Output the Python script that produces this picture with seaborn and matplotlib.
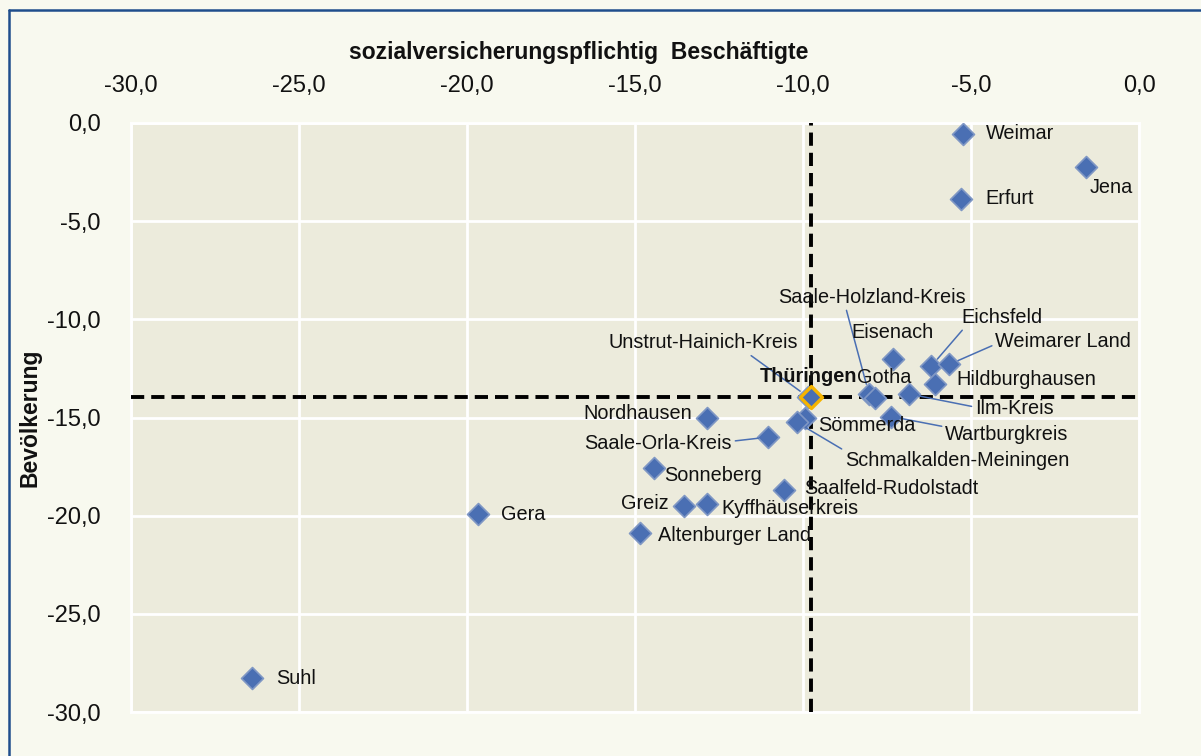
import matplotlib
matplotlib.use("Agg")
import matplotlib.pyplot as plt
from matplotlib.lines import Line2D
from matplotlib.ticker import FuncFormatter, MultipleLocator
import pandas as pd
import seaborn as sns

# change in percent, districts of Thuringia
kreise = ["Weimar", "Jena", "Erfurt", "Saale-Holzland-Kreis", "Eisenach", "Eichsfeld",
          "Weimarer Land", "Hildburghausen", "Gotha", "Unstrut-Hainich-Kreis", "Ilm-Kreis",
          "Wartburgkreis", "Sömmerda", "Schmalkalden-Meiningen", "Nordhausen",
          "Saale-Orla-Kreis", "Sonneberg", "Saalfeld-Rudolstadt", "Greiz", "Kyffhäuserkreis",
          "Altenburger Land", "Gera", "Suhl"]
beschaeftigte = [-5.24, -1.58, -5.30, -8.04, -7.32, -6.19,
                 -5.65, -6.07, -7.86, -9.85, -6.85,
                 -7.38, -9.94, -10.18, -12.86,
                 -11.04, -14.43, -10.57, -13.54, -12.86,
                 -14.85, -19.67, -26.40]
bevoelkerung = [-0.56, -2.24, -3.88, -13.78, -12.04, -12.40,
                -12.30, -13.30, -14.03, -13.95, -13.80,
                -14.95, -15.00, -15.25, -15.05,
                -16.00, -17.55, -18.70, -19.50, -19.40,
                -20.90, -19.90, -28.27]
land = "Thüringen"
land_x = -9.75
land_y = -13.95

# label placement (pixels from marker, ha) and leader lines (relpos on text)
label_pos = {
    "Weimar": (23, 0, "left"), "Jena": (4, -21, "left"), "Erfurt": (24, 1, "left"),
    "Saale-Holzland-Kreis": (3, 96, "center"), "Eisenach": (-1, 27, "center"),
    "Eichsfeld": (30, 49, "left"), "Weimarer Land": (46, 23, "left"),
    "Hildburghausen": (21, 5, "left"), "Gotha": (9, 21, "center"),
    "Unstrut-Hainich-Kreis": (-105, 54, "center"), "Ilm-Kreis": (66, -15, "left"),
    "Wartburgkreis": (54, -18, "left"), "Sömmerda": (13, -8, "left"),
    "Schmalkalden-Meiningen": (48, -38, "left"), "Nordhausen": (-15, 5, "right"),
    "Saale-Orla-Kreis": (-36, -6, "right"), "Sonneberg": (10, -8, "left"),
    "Saalfeld-Rudolstadt": (20, 2, "left"), "Greiz": (-15, 2, "right"),
    "Kyffhäuserkreis": (14, -5, "left"), "Altenburger Land": (18, -2, "left"),
    "Gera": (23, -1, "left"), "Suhl": (24, 0, "left"),
}
leaders = {
    "Saale-Holzland-Kreis": (0.36, 0.0), "Eichsfeld": (0.05, 0.0),
    "Weimarer Land": (0.0, 0.35), "Unstrut-Hainich-Kreis": (0.73, 0.0),
    "Ilm-Kreis": (0.0, 0.6), "Wartburgkreis": (0.0, 0.9),
    "Schmalkalden-Meiningen": (0.0, 1.0), "Saale-Orla-Kreis": (1.0, 0.6),
}

df = pd.DataFrame({"kreis": kreise, "x": beschaeftigte, "y": bevoelkerung})

sns.set_style("white")
plt.rcParams["font.family"] = ["Liberation Sans", "DejaVu Sans"]

fig = plt.figure(figsize=(12.01, 7.56), dpi=100, facecolor="#F8F9EF")
ax = fig.add_axes([131 / 1201, 1 - 712 / 756, 1008 / 1201, 589 / 756])
ax.set_facecolor("#ECEBDC")

blue = "#4A6FB3"
sns.scatterplot(data=df, x="x", y="y", marker="D", s=125, color=blue,
                edgecolor="#7F97C4", linewidth=1.2, ax=ax, zorder=4)
sns.scatterplot(x=[land_x], y=[land_y], marker="D", s=125, color=blue,
                edgecolor="#F5B400", linewidth=2.4, ax=ax, zorder=5)

ax.axvline(land_x, color="black", lw=2.8, ls=(0, (3.4, 1.8)), zorder=3)
ax.axhline(land_y, color="black", lw=2.8, ls=(0, (3.4, 1.8)), zorder=3)

for k, x, y in zip(kreise, beschaeftigte, bevoelkerung):
    dx, dy, ha = label_pos[k]
    kw = {}
    if k in leaders:
        kw["arrowprops"] = dict(arrowstyle="-", color=blue, lw=1.1,
                                shrinkA=0, shrinkB=7, relpos=leaders[k])
    ax.annotate(k, (x, y), xytext=(dx, dy), textcoords="offset pixels",
                ha=ha, va="center", fontsize=14.3, color="#111111", zorder=6, **kw)
ax.annotate(land, (land_x, land_y), xytext=(-3, 20), textcoords="offset pixels",
            ha="center", va="center", fontsize=14.3, fontweight="bold",
            color="#111111", zorder=6)

ax.set_xlim(-30, 0)
ax.set_ylim(-30, 0)
ax.xaxis.set_major_locator(MultipleLocator(5))
ax.yaxis.set_major_locator(MultipleLocator(5))
fmt = FuncFormatter(lambda v, p: f"{v:.1f}".replace(".", ","))
ax.xaxis.set_major_formatter(fmt)
ax.yaxis.set_major_formatter(fmt)
ax.xaxis.tick_top()
ax.tick_params(axis="both", length=0, labelsize=17, colors="#111111")
ax.tick_params(axis="x", pad=19)
ax.tick_params(axis="y", pad=22)
ax.grid(True, color="white", lw=2)
ax.set_axisbelow(True)
for sp in ax.spines.values():
    sp.set_visible(True)
    sp.set_color("white")
    sp.set_linewidth(2)
ax.set_xlabel("")
ax.set_ylabel("")

fig.text(579 / 1201, 1 - 53 / 756, "sozialversicherungspflichtig  Beschäftigte",
         ha="center", va="center", fontsize=16.5, fontweight="bold", color="#111111")
fig.text(30 / 1201, 1 - 418 / 756, "Bevölkerung", rotation=90,
         ha="center", va="center", fontsize=16.5, fontweight="bold", color="#111111")

# chart frame (left and top edge)
fig.add_artist(Line2D([9 / 1201, 9 / 1201], [0, 1 - 10 / 756], color="#1F4E8C", lw=1.8))
fig.add_artist(Line2D([9 / 1201, 1], [1 - 10 / 756, 1 - 10 / 756], color="#1F4E8C", lw=1.8))

fig.savefig("out.png", dpi=100, facecolor=fig.get_facecolor())
